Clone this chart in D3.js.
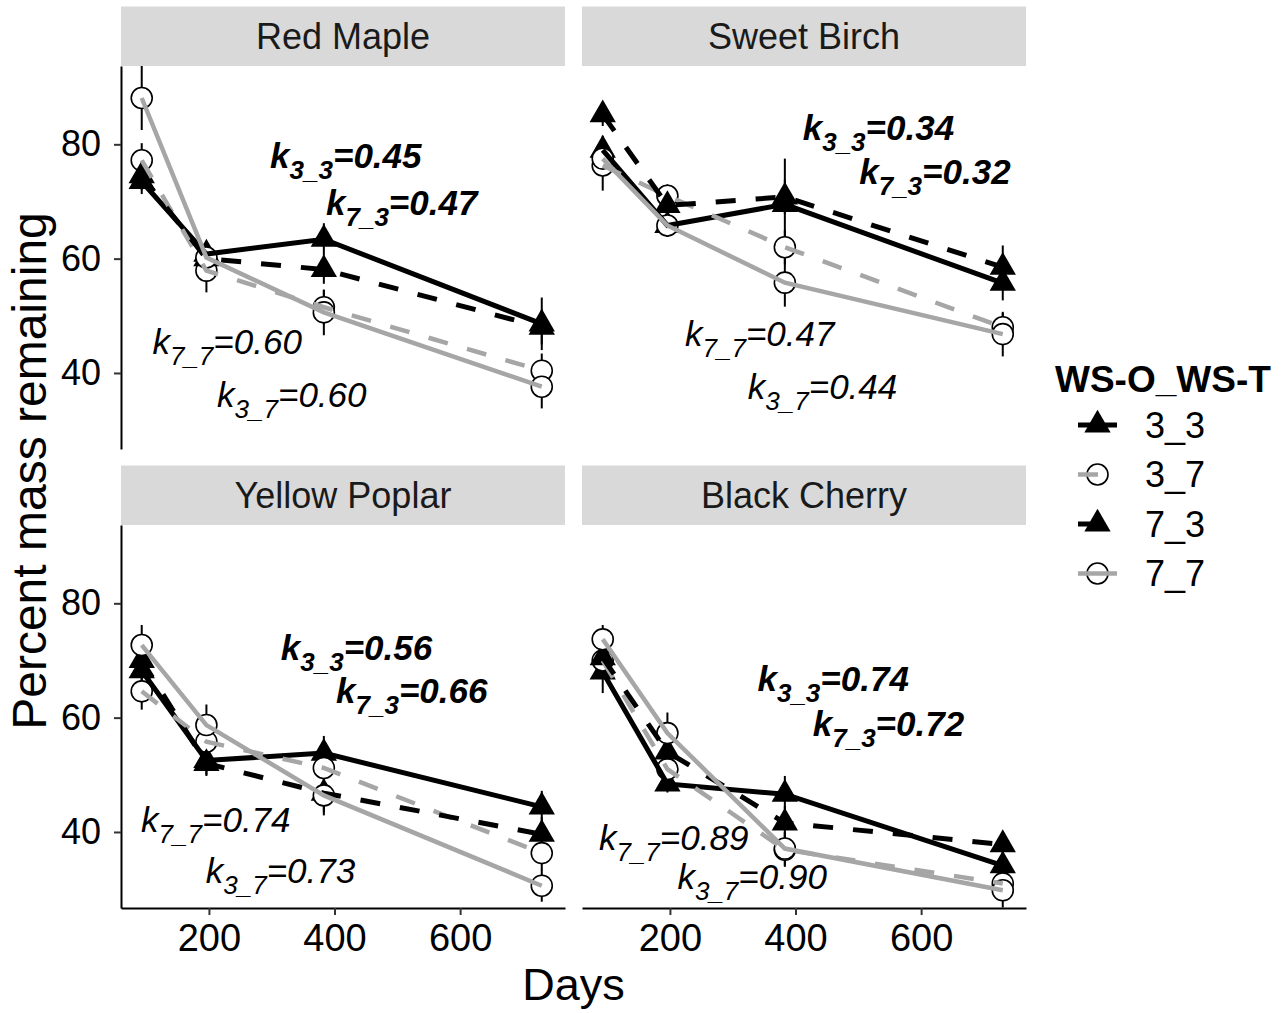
<!DOCTYPE html>
<html>
<head>
<meta charset="utf-8">
<script src="https://cdn.jsdelivr.net/npm/d3@7"></script>
<style>
  body { margin: 0; background: #fff; }
  text { font-family: Arial, "Liberation Sans", sans-serif; }
</style>
</head>
<body>
<svg id="chart" width="1284" height="1013"></svg>
<script>
// Data
var species = ["Red Maple", "Sweet Birch", "Yellow Poplar", "Black Cherry"];
var days = [93, 196, 383, 730];
var groups = ["3_3", "3_7", "7_3", "7_7"];

// mean percent mass remaining, rows in group order (3_3, 3_7, 7_3, 7_7)
var redMaple = [[73.5, 60.8, 63.4, 48.6], [77.2, 57.9, 51.5, 40.4], [74.5, 60.0, 58.1, 48.0], [88.1, 60.2, 50.6, 37.6]];
var sweetBirch = [[79.0, 65.8, 69.5, 55.7], [76.3, 71.0, 62.0, 48.0], [85.2, 69.3, 70.8, 58.5], [77.5, 65.8, 55.8, 46.8]];
var yellowPoplar = [[68.2, 52.5, 53.8, 44.4], [64.6, 55.8, 51.2, 36.3], [70.0, 52.0, 46.8, 39.6], [72.7, 58.7, 46.4, 30.6]];
var blackCherry = [[68.0, 48.4, 46.6, 34.1], [70.0, 51.0, 36.9, 31.0], [70.5, 54.0, 41.6, 37.8], [73.7, 57.3, 37.1, 29.8]];

// error (+/-), same layout
var errRedMaple = [[2.2, 1.8, 2.8, 4.6], [3.0, 3.8, 3.0, 3.0], [2.5, 2.0, 2.5, 3.0], [5.6, 2.5, 4.0, 3.8]];
var errSweetBirch = [[2.5, 2.0, 8.0, 3.0], [4.4, 2.0, 3.0, 2.5], [2.0, 2.0, 3.0, 3.8], [2.5, 2.0, 4.2, 3.9]];
var errYellowPoplar = [[3.0, 2.7, 3.0, 2.8], [3.2, 3.0, 3.0, 3.0], [2.5, 2.0, 3.9, 3.0], [3.5, 3.6, 3.0, 2.8]];
var errBlackCherry = [[3.7, 1.5, 3.2, 2.5], [2.5, 2.5, 3.0, 3.0], [2.5, 2.5, 3.0, 2.0], [2.5, 3.6, 3.0, 3.0]];

// decay constants k, group order
var kRedMaple = ["0.45", "0.60", "0.47", "0.60"];
var kSweetBirch = ["0.34", "0.44", "0.32", "0.47"];
var kYellowPoplar = ["0.56", "0.73", "0.66", "0.74"];
var kBlackCherry = ["0.74", "0.90", "0.72", "0.89"];

// where each k label sits, [day, percent] in group order
var kAtRedMaple = [[418, 75.8], [332, 34.0], [507, 67.6], [229, 43.4]];
var kAtSweetBirch = [[532, 80.7], [443, 35.5], [622, 73.1], [343, 44.8]];
var kAtYellowPoplar = [[435, 70.1], [314, 31.0], [523, 62.6], [211, 40.0]];
var kAtBlackCherry = [[460, 64.6], [331, 30.1], [548, 56.8], [206, 36.8]];

var xTicks = [200, 400, 600];
var yTicks = [40, 60, 80];

var means = [redMaple, sweetBirch, yellowPoplar, blackCherry];
var errs = [errRedMaple, errSweetBirch, errYellowPoplar, errBlackCherry];
var kVals = [kRedMaple, kSweetBirch, kYellowPoplar, kBlackCherry];
var kPos = [kAtRedMaple, kAtSweetBirch, kAtYellowPoplar, kAtBlackCherry];

// Styles
var grey = "#a6a6a6";
var lineColor = {"3_3": "#000", "3_7": grey, "7_3": "#000", "7_7": grey};
var lineDash = {"3_3": null, "3_7": "20,20", "7_3": "20,20", "7_7": null};
var isTri = {"3_3": true, "3_7": false, "7_3": true, "7_7": false};
var kBold = {"3_3": true, "3_7": false, "7_3": true, "7_7": false};

// Layout
var panelW = 444, panelH = 383, stripH = 59.5;
var colX = [121, 582], rowY = [66, 525];

var svg = d3.select("#chart");

var x = d3.scaleLinear().domain([60, 767]).range([0, panelW]);
var y = d3.scaleLinear().domain([26.7, 93.7]).range([panelH, 0]);

var line = d3.line()
    .x(function(d) { return x(d.day); })
    .y(function(d) { return y(d.v); });

var tri = d3.symbol().type(d3.symbolTriangle).size(300);

function drawPoint(g, grp, cx, cy) {
    if (isTri[grp]) {
        g.append("path")
            .attr("d", tri)
            .attr("transform", "translate(" + cx + "," + cy + ")")
            .attr("fill", "#000");
    } else {
        g.append("circle")
            .attr("cx", cx).attr("cy", cy).attr("r", 10.5)
            .attr("fill", "#fff")
            .attr("stroke", "#000")
            .attr("stroke-width", 1.6);
    }
}

species.forEach(function(sp, si) {
    var col = si % 2, row = Math.floor(si / 2);
    var g = svg.append("g")
        .attr("transform", "translate(" + colX[col] + "," + rowY[row] + ")");

    // strip
    g.append("rect")
        .attr("x", 0).attr("y", -stripH)
        .attr("width", panelW).attr("height", stripH)
        .attr("fill", "#d9d9d9");
    g.append("text")
        .attr("x", panelW / 2).attr("y", -stripH / 2)
        .attr("dy", "0.36em")
        .attr("text-anchor", "middle")
        .attr("font-size", 36)
        .attr("fill", "#1a1a1a")
        .text(sp);

    // rows of points for this panel
    var series = groups.map(function(grp, gi) {
        return {
            grp: grp,
            pts: days.map(function(d, di) {
                return {day: d, v: means[si][gi][di], e: errs[si][gi][di]};
            })
        };
    });

    // error bars
    series.forEach(function(s) {
        g.selectAll(null)
            .data(s.pts)
            .enter().append("line")
            .attr("x1", function(d) { return x(d.day); })
            .attr("x2", function(d) { return x(d.day); })
            .attr("y1", function(d) { return Math.max(0, y(d.v + d.e)); })
            .attr("y2", function(d) { return y(d.v - d.e); })
            .attr("stroke", "#000")
            .attr("stroke-width", 2);
    });

    // points
    series.forEach(function(s) {
        s.pts.forEach(function(d) {
            drawPoint(g, s.grp, x(d.day), y(d.v));
        });
    });

    // lines
    series.forEach(function(s) {
        g.append("path")
            .datum(s.pts)
            .attr("d", line)
            .attr("fill", "none")
            .attr("stroke", lineColor[s.grp])
            .attr("stroke-width", lineColor[s.grp] === "#000" ? 5 : 4.5)
            .attr("stroke-dasharray", lineDash[s.grp]);
    });

    // k labels
    groups.forEach(function(grp, gi) {
        var p = kPos[si][gi];
        var t = g.append("text")
            .attr("x", x(p[0])).attr("y", y(p[1]))
            .attr("text-anchor", "middle")
            .attr("font-size", 35)
            .attr("font-style", "italic")
            .attr("font-weight", kBold[grp] ? "bold" : "normal")
            .attr("fill", "#000");
        t.append("tspan").text("k");
        t.append("tspan").attr("dy", 11).attr("font-size", 26).text(grp);
        t.append("tspan").attr("dy", -11).text("=" + kVals[si][gi]);
    });

    // axes
    if (col === 0) {
        var ya = g.append("g")
            .call(d3.axisLeft(y).tickValues(yTicks).tickSize(7).tickSizeOuter(0).tickPadding(13));
        ya.select(".domain").attr("stroke", "#000").attr("stroke-width", 2);
        ya.selectAll(".tick line").attr("stroke", "#333").attr("stroke-width", 2);
        ya.selectAll(".tick text").attr("font-size", 36).attr("fill", "#000")
            .attr("font-family", "Arial, 'Liberation Sans', sans-serif");
    }
    if (row === 1) {
        var xa = g.append("g")
            .attr("transform", "translate(0," + panelH + ")")
            .call(d3.axisBottom(x).tickValues(xTicks).tickSize(7).tickSizeOuter(0).tickPadding(9));
        xa.select(".domain").attr("stroke", "#000").attr("stroke-width", 2);
        xa.selectAll(".tick line").attr("stroke", "#333").attr("stroke-width", 2);
        xa.selectAll(".tick text").attr("font-size", 38).attr("fill", "#000")
            .attr("font-family", "Arial, 'Liberation Sans', sans-serif");
    }
});

// axis titles
svg.append("text")
    .attr("x", (colX[0] + colX[1] + panelW) / 2).attr("y", 1000)
    .attr("text-anchor", "middle")
    .attr("font-size", 45)
    .text("Days");

svg.append("text")
    .attr("transform", "translate(46,471) rotate(-90)")
    .attr("text-anchor", "middle")
    .attr("font-size", 48)
    .text("Percent mass remaining");

// legend
var legend = svg.append("g");
legend.append("text")
    .attr("x", 1055).attr("y", 392)
    .attr("font-size", 37)
    .attr("font-weight", "bold")
    .text("WS-O_WS-T");

groups.forEach(function(grp, i) {
    var cy = 425 + i * 49.5;
    var key = legend.append("g");
    drawPoint(key, grp, 1097.5, cy);
    key.append("line")
        .attr("x1", 1078).attr("x2", 1117)
        .attr("y1", cy).attr("y2", cy)
        .attr("stroke", lineColor[grp])
        .attr("stroke-width", lineColor[grp] === "#000" ? 5 : 4.5)
        .attr("stroke-dasharray", lineDash[grp]);
    legend.append("text")
        .attr("x", 1145).attr("y", cy)
        .attr("dy", "0.36em")
        .attr("font-size", 36)
        .text(grp);
});
</script>
</body>
</html>
